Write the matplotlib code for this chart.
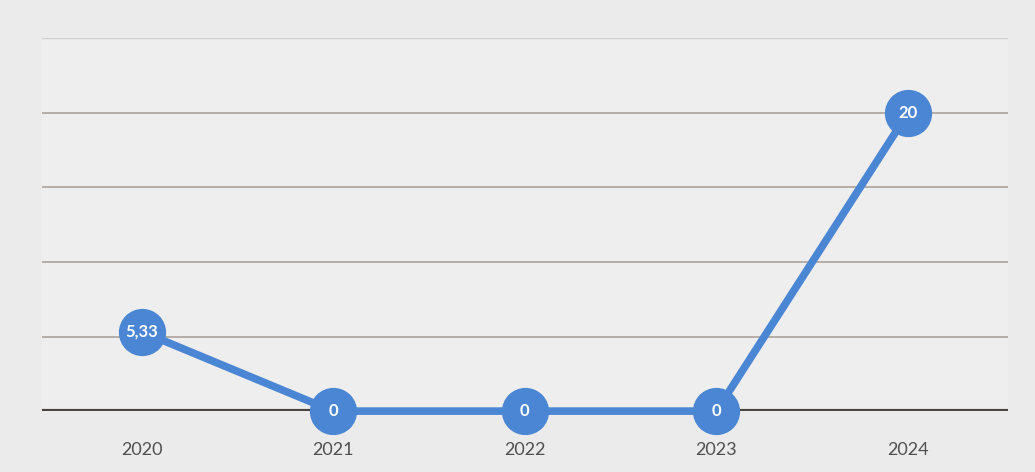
import matplotlib
matplotlib.use("Agg")
import matplotlib.pyplot as plt

years = ["2020", "2021", "2022", "2023", "2024"]
values = [5.33, 0, 0, 0, 20]
labels = ["5,33", "0", "0", "0", "20"]

plt.rcParams['font.family'] = ['Lato', 'DejaVu Sans']

fig = plt.figure(figsize=(10.35, 4.72), dpi=100, facecolor='#ebebeb')
ax = fig.add_axes([0.0406, 0.129, 0.933, 0.79])
ax.set_facecolor('#eeeeee')

x = list(range(len(years)))
ax.plot(x, values, color='#4a86d4', lw=5.5, marker='o', markersize=33,
        markerfacecolor='#4a86d4', markeredgecolor='#4a86d4', zorder=3, clip_on=False)
for xi, v, lab in zip(x, values, labels):
    ax.text(xi, v, lab, ha='center', va='center', color='white', fontsize=12,
            fontweight='bold', zorder=4)

ax.set_xlim(-0.52, len(years) - 0.48)
ax.set_ylim(0, 25)
ax.set_yticks([5, 10, 15, 20])
ax.yaxis.grid(True, color='#b0a8a2', lw=1.3)
ax.axhline(25, color='#d2d0ce', lw=1, zorder=1)
ax.set_axisbelow(True)
ax.axhline(0, color='#4a4440', lw=3, zorder=2)
ax.tick_params(axis='y', left=False, labelleft=False)
ax.tick_params(axis='x', length=0, pad=22, labelsize=13, labelcolor='#505050')
ax.set_xticks(x)
ax.set_xticklabels(years)
for s in ax.spines.values():
    s.set_visible(False)

fig.savefig('out.png', dpi=100, facecolor=fig.get_facecolor())
